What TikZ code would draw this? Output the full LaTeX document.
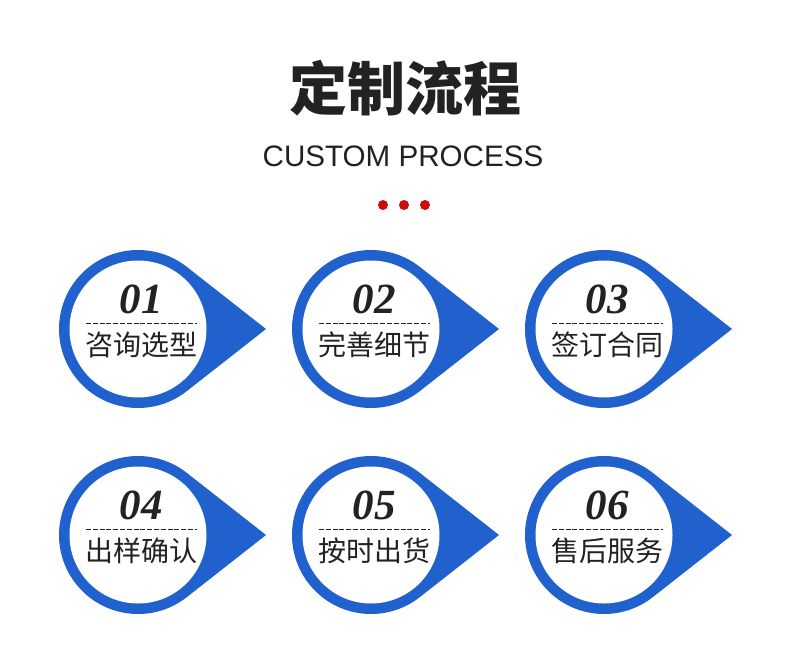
\documentclass[tikz,border=0pt]{standalone}
\usepackage{fontspec}
\setmainfont{Liberation Sans}
\newfontfamily\cjk{Noto Sans CJK SC}
\newfontfamily\numfont{Liberation Serif}
\definecolor{dropblue}{RGB}{33,97,205}
\definecolor{dotred}{RGB}{204,10,10}
\definecolor{txt}{RGB}{34,34,34}
\tikzset{
  titlestyle/.style={text=txt, inner sep=0pt, font=\cjk\bfseries\fontsize{58}{60}\selectfont},
  subtitlestyle/.style={text=txt, inner sep=0pt, font=\fontsize{29.6}{32}\selectfont},
  reddot/.style={fill=dotred},
  dropshape/.style={fill=dropblue},
  innerdisc/.style={fill=white},
  numstyle/.style={text=txt, inner sep=0pt, font=\numfont\bfseries\itshape\fontsize{43}{45}\selectfont},
  labelstyle/.style={text=txt, inner sep=0pt, font=\cjk\fontsize{28}{30}\selectfont},
  dashline/.style={draw=txt, line width=0.9pt, dash pattern=on 5pt off 1.8pt},
}
\newcommand\dropstep[4]{%
  \fill[dropshape] (#1,#2) ++(52.2:79) arc[start angle=52.2, end angle=307.8, radius=79] -- (#1+128,#2) -- cycle;
  \fill[innerdisc] (#1,#2) circle[radius=68.5];
  \node[numstyle] (num#3) at (#1+3,#2-30) {#3};
  \coordinate (dl#3) at (#1-52,#2-6);
  \coordinate (dr#3) at (#1+59,#2-6);
  \draw[dashline] (dl#3) -- (dr#3);
  \node[labelstyle] (lab#3) at (#1+3.5,#2+16) {#4};
}
\begin{document}
\begin{tikzpicture}[x=1pt,y=-1pt]
\useasboundingbox[fill=white] (0,0) rectangle (790,648);
\node[titlestyle] (title) at (405,88) {定制流程};
\node[subtitlestyle] (subtitle) at (403,156) {CUSTOM PROCESS};
\fill[reddot] (383,205) circle[radius=5];
\fill[reddot] (404,205) circle[radius=5];
\fill[reddot] (425,205) circle[radius=5];
\dropstep{138}{329}{01}{咨询选型}
\dropstep{371}{329}{02}{完善细节}
\dropstep{604}{329}{03}{签订合同}
\dropstep{138}{535}{04}{出样确认}
\dropstep{371}{535}{05}{按时出货}
\dropstep{604}{535}{06}{售后服务}
\end{tikzpicture}
\end{document}
